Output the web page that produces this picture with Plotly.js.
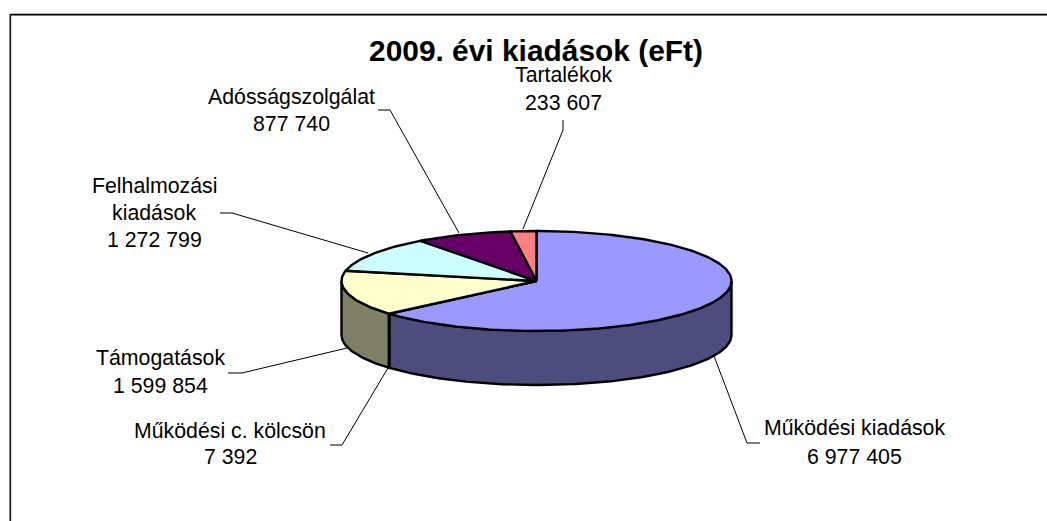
<!DOCTYPE html>
<html>
<head>
<meta charset="utf-8">
<script src="https://cdn.plot.ly/plotly-3.0.1.min.js"></script>
<style>html,body{margin:0;padding:0;background:#fff}#c{width:1047px;height:521px}</style>
</head>
<body>
<div id="c"></div>
<script>
// Data
const categories = ["Működési kiadások", "Működési c. kölcsön", "Támogatások", "Felhalmozási<br>kiadások", "Adósságszolgálat", "Tartalékok"];
const values = [6977405, 7392, 1599854, 1272799, 877740, 233607];
const titleText = "2009. évi kiadások (eFt)";

// Styles
const topColors = ["#9999FF", "#993366", "#FFFFCC", "#CCFFFF", "#660066", "#FF8080"];
const sideColors = ["#4C4C7F", "#4C1933", "#7F7F66", "#667F7F", "#330033", "#7F4040"];

// Pie geometry in chart pixels (axes run 1:1 with the page)
const cx = 536.5, cy = 281, rx = 195, ry = 50, depth = 54;

// Label placement: centre x and first-line y; line step; leader polyline
const labelCx = [854, 230, 160, 154, 291, 563];
const labelY = [428, 431, 358, 186, 97, 75];
const lineStep = [28.5, 26, 28, 27, 26.5, 28];
const leaderX = [[760, 747, 714], [330, 342, 388], [228, 242, 347], [220, 232, 368], [378, 390, 459], [563, 563, 523]];
const leaderY = [[443, 443, 356], [445, 445, 368], [373, 373, 348], [213, 213, 253], [110, 110, 233], [120, 130, 229]];

const total = values.reduce((a, b) => a + b, 0);
const fmt = v => String(v).replace(/\B(?=(\d{3})+(?!\d))/g, " ");
const px = t => cx + rx * Math.sin(t * Math.PI / 180);
const py = (t, d) => cy - ry * Math.cos(t * Math.PI / 180) + d;

let cum = 0;
const slices = values.map(v => { const a = cum; cum += v / total * 360; return [a, cum]; });

function arc(a, b, d) {
  const xs = [], ys = [];
  const n = Math.max(2, Math.ceil(Math.abs(b - a)));
  for (let i = 0; i <= n; i++) { const t = a + (b - a) * i / n; xs.push(px(t)); ys.push(py(t, d)); }
  return [xs, ys];
}

const traces = [];
function poly(xs, ys, fill, w) {
  traces.push({ type: "scatter", mode: "lines", x: xs, y: ys, fill: "toself", fillcolor: fill,
    line: { color: "#000", width: w, shape: "linear" }, hoverinfo: "skip", showlegend: false });
}

// Leader lines beneath the pie
leaderX.forEach((lx, i) => traces.push({ type: "scatter", mode: "lines", x: lx, y: leaderY[i],
  line: { color: "#000", width: 1 }, hoverinfo: "skip", showlegend: false }));

// Side walls: only the part of each slice on the front half (90..270 degrees)
slices.forEach(([a, b], i) => {
  const s = Math.max(a, 90), e = Math.min(b, 270);
  if (e <= s) return;
  const [x1, y1] = arc(s, e, 0), [x2, y2] = arc(e, s, depth);
  poly(x1.concat(x2, [x1[0]]), y1.concat(y2, [y1[0]]), sideColors[i], 2.4);
});

// Top faces
slices.forEach(([a, b], i) => {
  const [x1, y1] = arc(a, b, 0);
  poly([cx].concat(x1, [cx]), [cy].concat(y1, [cy]), topColors[i], 2.4);
});

// Labels
const annotations = [];
categories.forEach((c, i) => {
  c.split("<br>").concat([fmt(values[i])]).forEach((t, j) => annotations.push({
    x: labelCx[i], y: labelY[i] + j * lineStep[i], xref: "x", yref: "y", text: t, showarrow: false,
    xanchor: "center", yanchor: "middle", font: { family: "Liberation Sans, Arial, sans-serif", size: 21.3, color: "#000" }
  }));
});

const layout = {
  width: 1047, height: 521, margin: { l: 0, r: 0, t: 0, b: 0 },
  paper_bgcolor: "#fff", plot_bgcolor: "#fff", showlegend: false,
  title: { text: "<b>" + titleText + "</b>", x: 536 / 1047, y: 1 - 51 / 521, xref: "paper", yref: "container",
    xanchor: "center", yanchor: "middle", font: { family: "Liberation Sans, Arial, sans-serif", size: 29.9, color: "#000" } },
  xaxis: { range: [0, 1047], visible: false, fixedrange: true },
  yaxis: { range: [521, 0], visible: false, fixedrange: true },
  shapes: [
    { type: "line", xref: "x", yref: "y", x0: 10, x1: 1047, y0: 14.7, y1: 14.7, line: { color: "#000", width: 1.8 } },
    { type: "line", xref: "x", yref: "y", x0: 10.3, x1: 10.3, y0: 14, y1: 521, line: { color: "#222", width: 1.8 } }
  ],
  annotations
};
Plotly.newPlot("c", traces, layout, { displayModeBar: false, staticPlot: true });
</script>
</body>
</html>
